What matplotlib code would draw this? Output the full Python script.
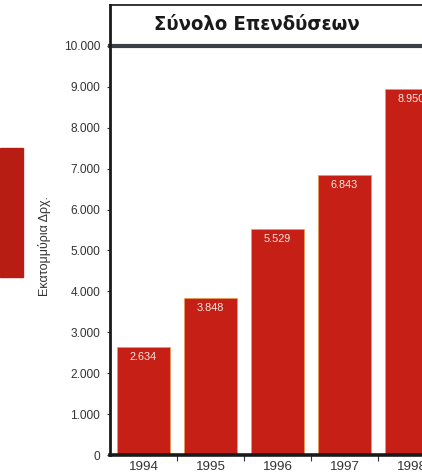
import numpy as np
import matplotlib
matplotlib.use("Agg")
import matplotlib.pyplot as plt
from matplotlib.patches import Rectangle

# data
years = ["1994", "1995", "1996", "1997", "1998"]
values = [2634, 3848, 5529, 6843, 8950]
yticks = [0, 1000, 2000, 3000, 4000, 5000, 6000, 7000, 8000, 9000, 10000]

title = "Σύνολο Επενδύσεων"
ylabel = "Εκατομμύρια Δρχ."

RED = "#C61F16"
INK = "#333333"


def fmt_gr(v):
    """greek thousands separator: 2634 -> 2.634"""
    return f"{v:,}".replace(",", ".")


plt.rcParams["font.family"] = ["Liberation Sans", "DejaVu Sans"]

W, H = 422, 473
fig = plt.figure(figsize=(W / 100, H / 100), dpi=100)

# axes placed in pixel terms of the reference
ax_left, ax_bottom, ax_top = 110, 455, 46
ax = fig.add_axes([ax_left / W, 1 - ax_bottom / H, 1 - ax_left / W + 0.01,
                   (ax_bottom - ax_top) / H])

x = np.arange(len(years))
bars = ax.bar(x, values, width=0.8, color=RED, edgecolor="#E9A13A",
              linewidth=0.4, zorder=2)

for xi, v in zip(x, values):
    ax.text(xi, v - 250, fmt_gr(v), ha="center", va="center",
            fontsize=7.8, color="#F4EDE4", zorder=3)

ax.set_xlim(-0.5, 4.22)
ax.set_ylim(0, 10000)
ax.set_yticks(yticks)
ax.set_yticklabels([fmt_gr(t) for t in yticks], fontsize=8.6, color=INK)
ax.set_xticks(x)
ax.set_xticklabels(years, fontsize=9.6, color=INK)
ax.set_xticks(x[:-1] + 0.5, minor=True)
ax.tick_params(axis="x", which="major", length=0, pad=4)
ax.tick_params(axis="x", which="minor", length=4, width=0.8, direction="out",
               color=INK)
ax.tick_params(axis="y", length=2, width=0.8, pad=5, color=INK)

ax.set_ylabel(ylabel, fontsize=9, color=INK)
ax.yaxis.set_label_coords((52 - ax_left) / (W - ax_left), 0.51)

for s in ["top", "right"]:
    ax.spines[s].set_visible(False)
ax.spines["left"].set_linewidth(2.0)
ax.spines["left"].set_color("#1a1a1a")
ax.spines["bottom"].set_linewidth(2.6)
ax.spines["bottom"].set_color("#1a1a1a")

# title box above the plot area
bx0, by0, by1 = ax_left, 5, ax_top
fig.add_artist(plt.Line2D([bx0 / W, 1.0], [1 - by0 / H, 1 - by0 / H],
                          color="#333333", lw=1.4))
fig.add_artist(plt.Line2D([bx0 / W, 1.0], [1 - by1 / H, 1 - by1 / H],
                          color="#3a3f44", lw=3.0))
fig.add_artist(plt.Line2D([bx0 / W, bx0 / W], [1 - by0 / H, 1 - by1 / H],
                          color="#1a1a1a", lw=2.0))
fig.text(257 / W, 1 - 25 / H, title, ha="center", va="center",
         fontsize=14.5, fontweight="bold", fontstretch="condensed",
         color="#1a1a1a", family=["DejaVu Sans"])

# red tab at the left edge of the scan
fig.add_artist(Rectangle((0, 1 - 277 / H), 23 / W, 129 / H,
                         transform=fig.transFigure, color="#B81D14"))

fig.savefig("out.png", dpi=100)
